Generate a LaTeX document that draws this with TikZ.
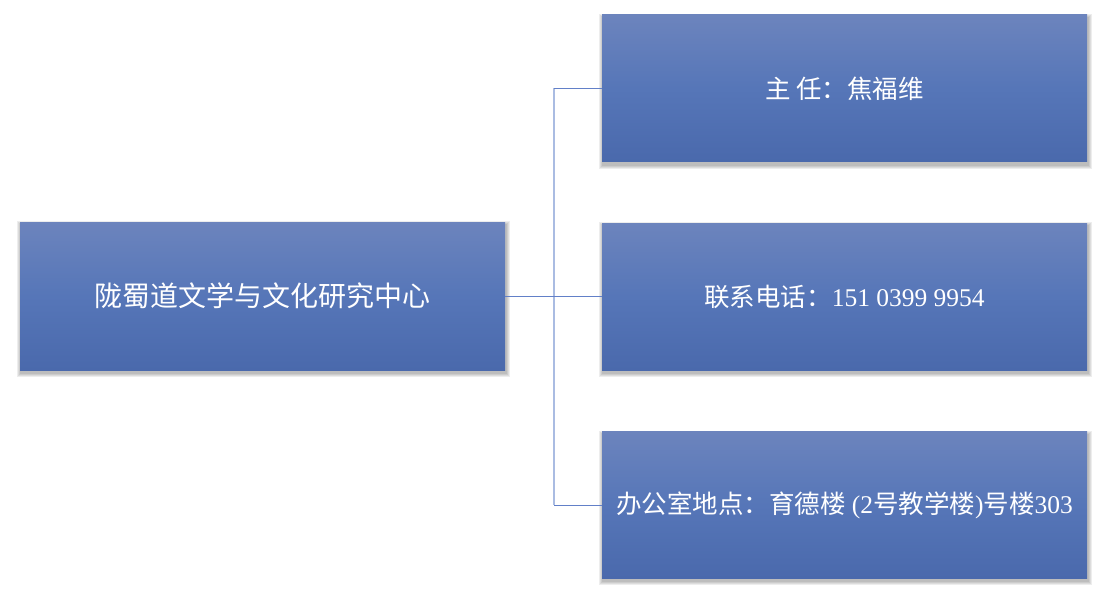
\documentclass[tikz,border=0pt]{standalone}
\usepackage{fontspec}
\setmainfont{Liberation Serif}
\newfontfamily\cjk{Noto Sans CJK SC}
\usetikzlibrary{backgrounds,calc}
\definecolor{boxtop}{RGB}{108,132,189}
\definecolor{boxmid}{RGB}{86,118,184}
\definecolor{boxbot}{RGB}{74,105,172}
\definecolor{hcol}{RGB}{98,128,200}
\definecolor{vcol}{RGB}{170,188,226}
\tikzset{
  box/.style={rectangle, minimum width=485pt, minimum height=147pt, inner sep=0pt,
    top color=boxtop, bottom color=boxbot, middle color=boxmid,
    text=white, align=center},
  shadowring/.style={fill=black, opacity=0.07},
  bigtxt/.style={font=\fontsize{28}{34}\selectfont},
  smalltxt/.style={font=\fontsize{25.5}{30}\selectfont},
  hline/.style={draw=hcol, line width=1pt},
  vline/.style={draw=vcol, line width=1.2pt},
}
\begin{document}
\begin{tikzpicture}[x=1pt,y=-1pt]
\useasboundingbox (0,0) rectangle (1110,596);
\node[box, bigtxt, minimum height=148pt] (main) at (262.5,296) {{\cjk 陇蜀道文学与文化研究中心}};
\node[box, smalltxt] (b1) at (844.5,88.5) {{\cjk 主 任：焦福维}};
\node[box, smalltxt] (b2) at (844.5,296.5) {{\cjk 联系电话：}151 0399 9954};
\node[box, smalltxt] (b3) at (844.5,505) {{\cjk 办公室地点：育德楼} ({2}{\cjk 号教学楼}){\cjk 号楼}303};
\begin{scope}[on background layer]
\fill[white] (0,0) rectangle (1110,596);
\foreach \n in {main,b1,b2,b3}{
  \foreach \d in {0.5,1.5,2.5,3.5}{
    \fill[shadowring] ($(\n.north west)+(-\d+1,-\d+3)$) rectangle ($(\n.south east)+(\d+1,\d+3)$);
  }
}
\end{scope}
\coordinate (hub) at (554,296);
\coordinate (j1) at (b1.west -| hub);
\coordinate (j2) at (b2.west -| hub);
\coordinate (j3) at (b3.west -| hub);
\draw[vline] (j1) -- (j3);
\draw[hline] (main.east) -- (hub);
\draw[hline] (j1) -- (b1.west);
\draw[hline] (j2) -- (b2.west);
\draw[hline] (j3) -- (b3.west);
\end{tikzpicture}
\end{document}
